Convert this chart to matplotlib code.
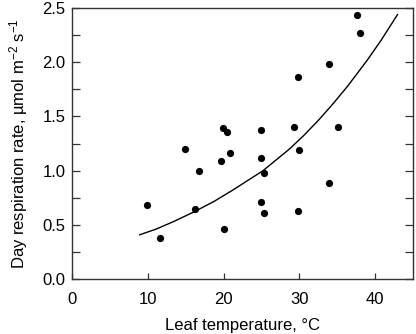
#!/usr/bin/env python3
# -*- coding: utf-8 -*-
"""Day respiration rate vs leaf temperature (scatter + fitted curve)."""

import matplotlib
matplotlib.use('Agg')
import matplotlib.pyplot as plt
from matplotlib.ticker import MultipleLocator

plt.rcParams['font.family'] = ['Liberation Sans', 'DejaVu Sans']
plt.rcParams['mathtext.fontset'] = 'custom'
plt.rcParams['mathtext.rm'] = 'Liberation Sans'
plt.rcParams['mathtext.it'] = 'Liberation Sans'

leaf_temp = [9.9, 11.6, 14.9, 16.2, 16.8, 19.9, 20.5, 20.8, 19.7, 25.0,
             25.0, 25.3, 24.9, 25.3, 20.0, 29.3, 30.0, 29.9, 37.6, 38.1,
             34.0, 29.8, 35.1, 34.0]
resp_rate = [0.68, 0.38, 1.20, 0.65, 1.00, 1.39, 1.36, 1.16, 1.09, 1.38,
             1.12, 0.98, 0.71, 0.61, 0.46, 1.40, 1.19, 0.63, 2.44, 2.27,
             1.98, 1.86, 1.40, 0.89]

# fitted curve, points
curve_t = [8.9, 11.0, 13.5, 16.2, 18.8, 21.4, 25.2, 28.7, 30.6, 32.6, 34.5,
           36.4, 39.0, 40.8, 43.0]
curve_r = [0.41, 0.46, 0.535, 0.625, 0.72, 0.83, 1.0, 1.2, 1.325, 1.47, 1.62,
           1.78, 2.02, 2.2, 2.44]

fig = plt.figure(figsize=(4.16, 3.34), dpi=100)
ax = fig.add_axes([0.174, 0.164, 0.818, 0.812])

ax.plot(curve_t, curve_r, color='black', linewidth=1.0, zorder=2)
ax.plot(leaf_temp, resp_rate, 'o', color='black', markersize=5.2,
        markeredgewidth=0, zorder=3)

ax.set_xlim(0, 45)
ax.set_ylim(0, 2.5)
ax.xaxis.set_major_locator(MultipleLocator(10))
ax.yaxis.set_major_locator(MultipleLocator(0.5))
ax.yaxis.set_minor_locator(MultipleLocator(0.25))
ax.yaxis.set_major_formatter(plt.FormatStrFormatter('%.1f'))

ax.tick_params(axis='both', which='both', direction='in', labelsize=12,
               color='#333333', width=0.9)
ax.tick_params(axis='y', which='both', right=True, length=6, pad=5)
ax.tick_params(axis='x', which='major', length=4.5, pad=9)

for sp in ax.spines.values():
    sp.set_color('#333333')
    sp.set_linewidth(1.0)

ax.set_xlabel('Leaf temperature, °C', fontsize=12, labelpad=8)
ax.set_ylabel(r'Day respiration rate, µmol m$^{\mathregular{-2}}$ s$^{\mathregular{-1}}$',
              fontsize=12, labelpad=9)

fig.savefig('out.png', dpi=100, facecolor='white')
